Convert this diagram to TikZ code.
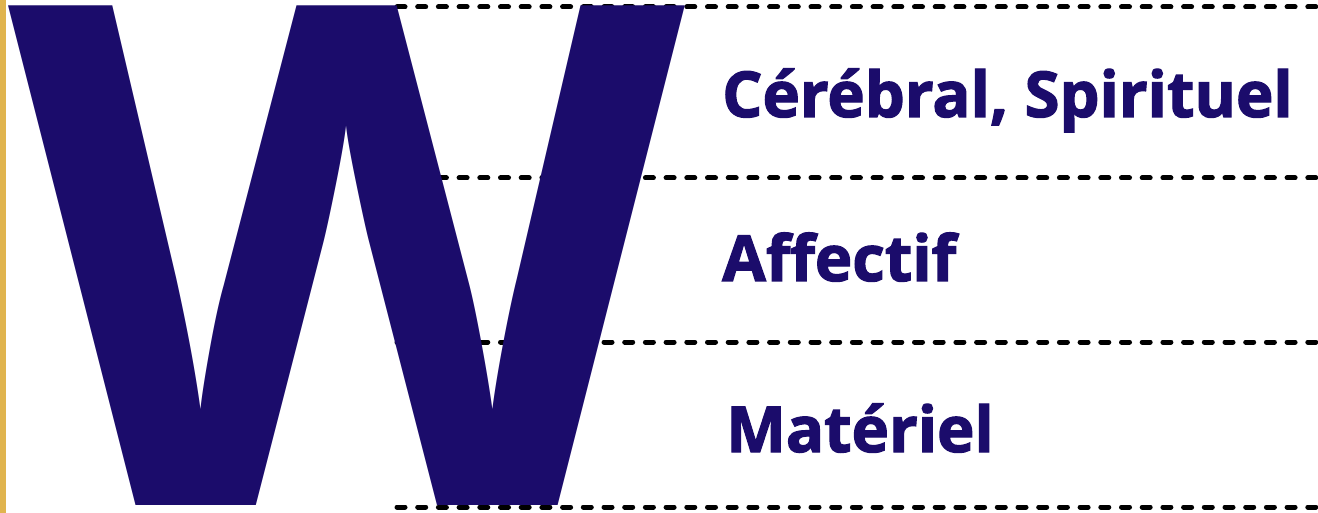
\documentclass[tikz,border=0pt]{standalone}
\usepackage{fontspec}
\setmainfont{Open Sans}
\newfontfamily\levelfont{Open Sans}[UprightFont=* Bold,FakeBold=2]
\definecolor{wnavy}{RGB}{27,12,107}
\definecolor{wgold}{RGB}{224,180,78}
\usetikzlibrary{positioning}

\begin{document}
\begin{tikzpicture}[x=1pt,y=-1pt,
    dotline/.style={line width=5pt,line cap=round,dash pattern=on 8pt off 12.7pt},
    level/.style={anchor=base west,inner sep=0pt,text=wnavy,font=\fontsize{63.3}{64}\levelfont}]
  \useasboundingbox (0,0) rectangle (1318,513);
  \fill[white] (0,0) rectangle (1318,513);
  \fill[wgold] (0,0) rectangle (6,513);
  % dotted separators, behind the letter
  \foreach \y/\n in {7/top,178/upper,342/lower,507/bottom}{
    \coordinate (\n-start) at (397,\y);
    \coordinate (\n-end) at (1318,\y);
    \draw[dotline] (\n-start) -- (\n-end);
  }
  % the big letter
  \node[anchor=base west,inner sep=0pt,text=wnavy,font=\fontsize{700}{700}\selectfont\bfseries] (bigw) at (8,505) {W};
  % levels
  \node[level] (cerebral) at (722,117) {Cérébral, Spirituel};
  \node[level] (affectif) at (722,281) {Affectif};
  \node[level] (materiel) at (726,452) {Matériel};
\end{tikzpicture}
\end{document}
